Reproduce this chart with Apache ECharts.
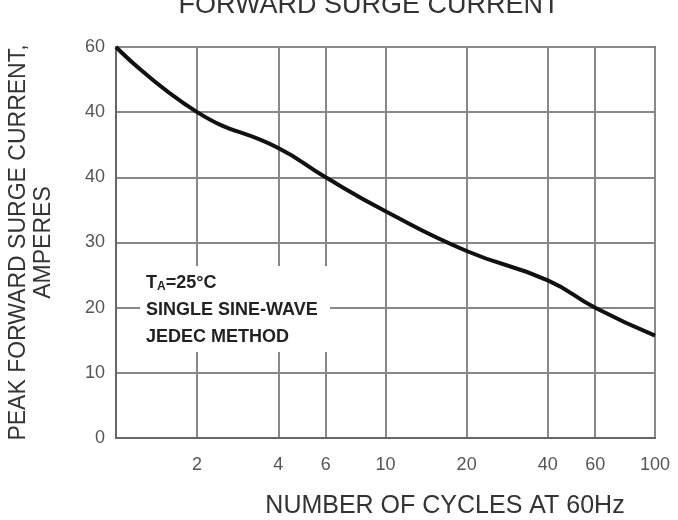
<!DOCTYPE html>
<html><head><meta charset="utf-8">
<script src="https://cdn.jsdelivr.net/npm/echarts@6/dist/echarts.min.js"></script>
<style>html,body{margin:0;padding:0;background:#fff}#c{width:678px;height:520px}</style>
</head><body><div id="c"></div>
<script>
const cycles = [1, 2, 4, 6, 10, 20, 40, 60, 100];
const surgeAmps = [60, 50, 44.5, 40, 34.8, 28.7, 24.2, 20, 15.7];
const xGridValues = [1, 2, 4, 6, 10, 20, 40, 60, 100];
const xTickValues = [2, 4, 6, 10, 20, 40, 60, 100];
const yTickValues = [0, 10, 20, 30, 40, 50, 60];
const yTickLabels = ['0', '10', '20', '30', '40', '40', '60'];
const titleText = 'FORWARD SURGE CURRENT';
const xName = 'NUMBER OF CYCLES AT 60Hz';
const yName = 'PEAK FORWARD SURGE CURRENT,\nAMPERES';
const noteText = '{t|T}{sub|A}{t|=25°C}\n{t|SINGLE SINE-WAVE}\n{t|JEDEC METHOD}';

const FONT = 'Liberation Sans, Arial, sans-serif';
const chart = echarts.init(document.getElementById('c'));
chart.setOption({
  animation: false,
  backgroundColor: '#fff',
  grid: {left: 116, right: 23, top: 47, bottom: 82, show: true, borderColor: '#666', borderWidth: 2, outerBoundsMode: 'none'},
  xAxis: {
    type: 'log', logBase: 10, min: 1, max: 100,
    axisLine: {show: true, lineStyle: {color: '#666', width: 2}},
    axisTick: {show: false, customValues: xGridValues},
    axisLabel: {customValues: xTickValues, formatter: v => String(Math.round(v)), color: '#555', fontSize: 18, margin: 18, fontFamily: FONT},
    splitLine: {show: true, lineStyle: {color: '#888', width: 2}},
    minorTick: {show: false}, minorSplitLine: {show: false}
  },
  yAxis: {
    type: 'value', min: 0, max: 60, interval: 10,
    name: yName, nameLocation: 'middle', nameGap: 60, nameRotate: 90,
    nameTextStyle: {fontSize: 23, lineHeight: 25, color: '#333', fontFamily: FONT},
    axisLine: {show: true, lineStyle: {color: '#666', width: 2}},
    axisTick: {show: false},
    axisLabel: {formatter: v => yTickLabels[yTickValues.indexOf(v)], color: '#555', fontSize: 18, margin: 11, fontFamily: FONT},
    splitLine: {show: true, lineStyle: {color: '#888', width: 2}}
  },
  series: [{
    type: 'line', data: cycles.map((c, i) => [c, surgeAmps[i]]),
    smooth: 0.5, symbol: 'none', z: 5,
    lineStyle: {color: '#111', width: 4}
  }],
  graphic: [
    {type: 'text', z: 100, style: {x: 369, y: 19, text: titleText, align: 'center', verticalAlign: 'bottom', fontSize: 27, fill: '#333', fontFamily: FONT}},
    {type: 'text', z: 100, style: {x: 445, y: 506, text: xName, align: 'center', verticalAlign: 'middle', fontSize: 25, fill: '#333', fontFamily: FONT}},
    {type: 'rect', z: 99, shape: {x: 140, y: 266, width: 190, height: 86}, style: {fill: '#fff'}},
    {type: 'text', z: 100, style: {x: 146, y: 270, text: noteText, align: 'left', verticalAlign: 'top', fontFamily: FONT,
      rich: {t: {fontSize: 18, fontWeight: 'bold', lineHeight: 27, fill: '#222', fontFamily: FONT},
             sub: {fontSize: 12, fontWeight: 'bold', lineHeight: 27, fill: '#222', fontFamily: FONT, padding: [7, 0, 0, 0]}}}}
  ]
});
</script></body></html>
